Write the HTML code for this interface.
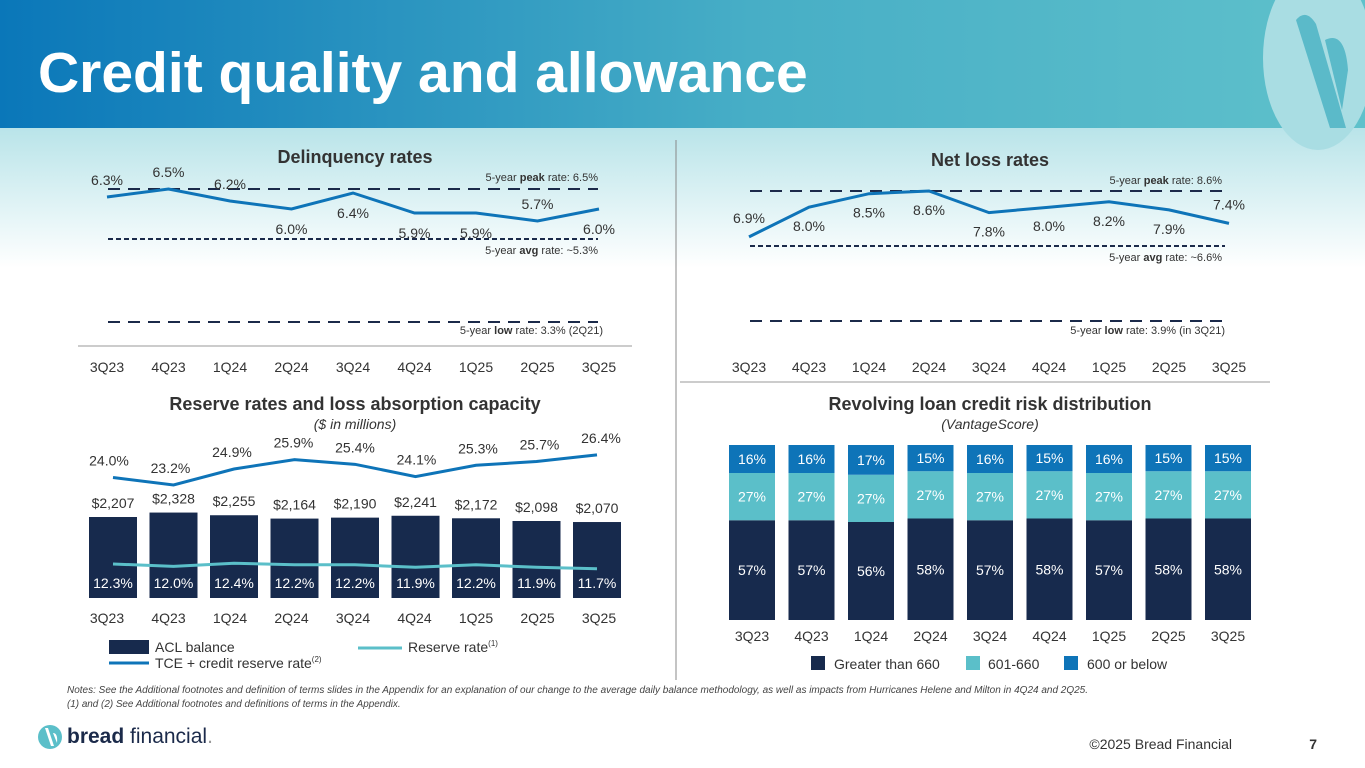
<!DOCTYPE html>
<html><head><meta charset="utf-8"><style>
html,body{margin:0;padding:0;background:#fff;}
svg{display:block;font-family:"Liberation Sans",Arial,sans-serif;}
</style></head><body>
<svg id="s" width="1365" height="768" viewBox="0 0 1365 768" xmlns="http://www.w3.org/2000/svg">
<defs>
<linearGradient id="hg" x1="0" x2="1" y1="0" y2="0"><stop offset="0" stop-color="#0a77b9"/><stop offset="0.55" stop-color="#47aec6"/><stop offset="1" stop-color="#5fc1cb"/></linearGradient>
<linearGradient id="bg" x1="0" x2="0" y1="0" y2="1"><stop offset="0" stop-color="#b9e4e9"/><stop offset="1" stop-color="#ffffff"/></linearGradient>
</defs>
<rect x="0" y="128" width="1365" height="140" fill="url(#bg)"/>
<rect x="0" y="0" width="1365" height="128" fill="url(#hg)"/>
<g>
<ellipse cx="1318" cy="58" rx="55" ry="92" fill="#a9dde3"/>
<path d="M1296 20 Q1306 8 1316 24 L1346 128 L1330 128 Z" fill="#5bbac9"/>
<path d="M1325 40 Q1345 30 1348 70 L1342 110 Z" fill="#5bbac9"/>
</g>
<text x="38" y="92" font-size="57" font-weight="bold" fill="#fff">Credit quality and allowance</text>
<line x1="676" y1="140" x2="676" y2="680" stroke="#888" stroke-width="1"/>
<line x1="78" y1="346" x2="632" y2="346" stroke="#999"/>
<line x1="680" y1="382" x2="1270" y2="382" stroke="#999"/>

<text x="355" y="163" font-size="18" font-weight="bold" fill="#333" text-anchor="middle">Delinquency rates</text>
<text x="990" y="166" font-size="18" font-weight="bold" fill="#333" text-anchor="middle">Net loss rates</text>
<text x="355" y="410" font-size="18" font-weight="bold" fill="#333" text-anchor="middle">Reserve rates and loss absorption capacity</text>
<text x="355" y="429" font-size="14" font-style="italic" fill="#333" text-anchor="middle">($ in millions)</text>
<text x="990" y="410" font-size="18" font-weight="bold" fill="#333" text-anchor="middle">Revolving loan credit risk distribution</text>
<text x="990" y="429" font-size="14" font-style="italic" fill="#333" text-anchor="middle">(VantageScore)</text>

<g id="g1"></g><g id="g2"></g><g id="g3"></g><g id="g4"></g>

<g font-size="14" fill="#333">
<rect x="109" y="640" width="40" height="14" fill="#172a4d"/><text x="155" y="652">ACL balance</text>
<line x1="358" y1="648" x2="402" y2="648" stroke="#5bbfc9" stroke-width="3"/><text x="408" y="652">Reserve rate<tspan font-size="8" dy="-6">(1)</tspan></text>
<line x1="109" y1="663" x2="149" y2="663" stroke="#0e74b8" stroke-width="3"/><text x="155" y="668">TCE + credit reserve rate<tspan font-size="8" dy="-6">(2)</tspan></text>
</g>
<g font-size="14" fill="#333">
<rect x="811" y="656" width="14" height="14" fill="#172a4d"/><text x="834" y="669">Greater than 660</text>
<rect x="966" y="656" width="14" height="14" fill="#5bbfc9"/><text x="988" y="669">601-660</text>
<rect x="1064" y="656" width="14" height="14" fill="#0e74b8"/><text x="1087" y="669">600 or below</text>
</g>
<g font-size="9.9" font-style="italic" fill="#444">
<text x="67" y="693" textLength="1021" lengthAdjust="spacingAndGlyphs">Notes: See the Additional footnotes and definition of terms slides in the Appendix for an explanation of our change to the average daily balance methodology, as well as impacts from Hurricanes Helene and Milton in 4Q24 and 2Q25.</text>
<text x="67" y="707">(1) and (2) See Additional footnotes and definitions of terms in the Appendix.</text>
</g>
<g>
<circle cx="50" cy="737" r="12" fill="#5bbfc9"/><path d="M45 728 L51 746 L54 746 L48 728Z M53 733 Q58 733 57 743 Z" fill="#fff"/>
<text x="67" y="743" font-size="21" fill="#1b2a4a"><tspan font-weight="bold">bread</tspan> financial<tspan fill="#999">.</tspan></text>
</g>
<text x="1232" y="749" font-size="14" fill="#333" text-anchor="end">©2025 Bread Financial</text>
<text x="1317" y="749" font-size="14" font-weight="bold" fill="#333" text-anchor="end">7</text>
</svg>
<script>
const quarters=["3Q23","4Q23","1Q24","2Q24","3Q24","4Q24","1Q25","2Q25","3Q25"];
const delinquency=[6.3,6.5,6.2,6.0,6.4,5.9,5.9,5.7,6.0];
const delinqLabelPos=["a","a","a","b","b","b","b","a","b"];
const netLoss=[6.9,8.0,8.5,8.6,7.8,8.0,8.2,7.9,7.4];
const netLossLabelPos=["a","b","b","b","b","b","b","b","a"];
const aclBalance=[2207,2328,2255,2164,2190,2241,2172,2098,2070];
const tceRate=[24.0,23.2,24.9,25.9,25.4,24.1,25.3,25.7,26.4];
const reserveRate=[12.3,12.0,12.4,12.2,12.2,11.9,12.2,11.9,11.7];
const greater660=[57,57,56,58,57,58,57,58,58];
const mid601=[27,27,27,27,27,27,27,27,27];
const below600=[16,16,17,15,16,15,16,15,15];
const NS="http://www.w3.org/2000/svg";
function mk(p,t,a,txt){const e=document.createElementNS(NS,t);for(const k in a)e.setAttribute(k,a[k]);if(txt!==undefined)e.textContent=txt;p.appendChild(e);return e;}
function ref(p,x1,x2,y,dash,label,bold,ly,lx){
  const l=mk(p,'line',{x1:x1,x2:x2,y1:y,y2:y,stroke:'#1b2a4a','stroke-width':2,'stroke-dasharray':dash});
  
  
  const t=mk(p,'text',{x:lx,y:ly,'font-size':11,fill:'#333','text-anchor':'end'});
  
  
  mk(t,'tspan',{},label[0]);mk(t,'tspan',{'font-weight':'bold'},bold);mk(t,'tspan',{},label[1]);
}
// Chart 1 delinquency
(function(){
 const g=document.getElementById('g1');
 const x=i=>107+61.5*i, y=v=>189-(v-6.5)*40;
 ref(g,108,598,189,'12 8',['5-year ',' rate: 6.5%'],'peak',181,598);
 ref(g,108,598,239,'5 3',['5-year ',' rate: ~5.3%'],'avg',254,598);
 ref(g,108,598,322,'12 8',['5-year ',' rate: 3.3% (2Q21)'],'low',334,603);
 const pl=mk(g,'polyline',{points:delinquency.map((v,i)=>x(i)+','+y(v)).join(' '),fill:'none',stroke:'#0e74b8','stroke-width':3});
 
 
 delinquency.forEach((v,i)=>{const yy=delinqLabelPos[i]=='a'?y(v)-12:y(v)+25;
  const t=mk(g,'text',{x:x(i),y:yy,'font-size':14,fill:'#333','text-anchor':'middle'},v.toFixed(1)+'%');
  
  });
 quarters.forEach((q,i)=>{const t=mk(g,'text',{x:x(i),y:372,'font-size':14,fill:'#333','text-anchor':'middle'},q);
  
  });
})();
// Chart 2 net loss
(function(){
 const g=document.getElementById('g2');
 const x=i=>749+60*i, y=v=>191+(8.6-v)*27;
 ref(g,750,1225,191,'12 8',['5-year ',' rate: 8.6%'],'peak',184,1222);
 ref(g,750,1225,246,'5 3',['5-year ',' rate: ~6.6%'],'avg',261,1222);
 ref(g,750,1225,321,'12 8',['5-year ',' rate: 3.9% (in 3Q21)'],'low',334,1225);
 const pl=mk(g,'polyline',{points:netLoss.map((v,i)=>x(i)+','+y(v)).join(' '),fill:'none',stroke:'#0e74b8','stroke-width':3});
 
 
 netLoss.forEach((v,i)=>{const yy=netLossLabelPos[i]=='a'?y(v)-14:y(v)+24;
  const t=mk(g,'text',{x:x(i),y:yy,'font-size':14,fill:'#333','text-anchor':'middle'},v.toFixed(1)+'%');
  
  });
 quarters.forEach((q,i)=>{const t=mk(g,'text',{x:x(i),y:372,'font-size':14,fill:'#333','text-anchor':'middle'},q);
  
  });
})();
// Chart 3 reserve
(function(){
 const g=document.getElementById('g3');
 const bx=i=>113+60.5*i, lx=i=>107+61.5*i, base=598, h=v=>v*0.0367;
 aclBalance.forEach((v,i)=>{const r=mk(g,'rect',{x:bx(i)-24,y:base-h(v),width:48,height:h(v),fill:'#172a4d'});
  
  
  const t=mk(g,'text',{x:bx(i),y:base-h(v)-9,'font-size':14,fill:'#333','text-anchor':'middle'},'$'+v.toLocaleString('en-US'));
  
  });
 const yt=v=>485-(v-23.2)*9.4;
 const pl=mk(g,'polyline',{points:tceRate.map((v,i)=>bx(i)+','+yt(v)).join(' '),fill:'none',stroke:'#0e74b8','stroke-width':3});
 
 
 tceRate.forEach((v,i)=>{const t=mk(g,'text',{x:lx(i)+2,y:yt(v)-12,'font-size':14,fill:'#333','text-anchor':'middle'},v.toFixed(1)+'%');
  
  });
 const yr=v=>564-(v-12.3)*8;
 const p2=mk(g,'polyline',{points:reserveRate.map((v,i)=>bx(i)+','+yr(v)).join(' '),fill:'none',stroke:'#5bbfc9','stroke-width':3});
 
 
 reserveRate.forEach((v,i)=>{const t=mk(g,'text',{x:bx(i),y:588,'font-size':14,fill:'#fff','text-anchor':'middle'},v.toFixed(1)+'%');
  
  });
 quarters.forEach((q,i)=>{const t=mk(g,'text',{x:lx(i),y:623,'font-size':14,fill:'#333','text-anchor':'middle'},q);
  
  });
})();
// Chart 4 revolving
(function(){
 const g=document.getElementById('g4');
 const x=i=>752+59.5*i, base=620, k=1.75;
 const series=[[greater660,'#172a4d'],[mid601,'#5bbfc9'],[below600,'#0e74b8']];
 quarters.forEach((q,i)=>{let y0=base;
  series.forEach(([arr,c])=>{const hh=arr[i]*k;
   const r=mk(g,'rect',{x:x(i)-23,y:y0-hh,width:46,height:hh,fill:c});
   
   
   const t=mk(g,'text',{x:x(i),y:y0-hh/2+5,'font-size':14,fill:'#fff','text-anchor':'middle'},arr[i]+'%');
   
   
   y0-=hh;});
  const t=mk(g,'text',{x:x(i),y:641,'font-size':14,fill:'#333','text-anchor':'middle'},q);
  
  });
})();
</script>
</body></html>
